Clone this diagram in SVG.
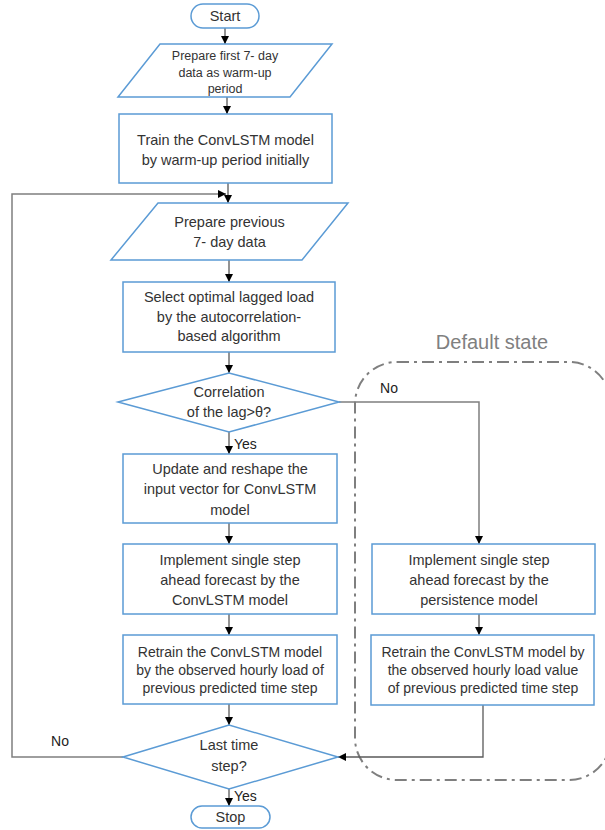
<svg xmlns="http://www.w3.org/2000/svg" width="605" height="830" viewBox="0 0 605 830">
<defs>
<style>
.box{fill:#fff;stroke:#5B9BD5;stroke-width:1.5}
.t{font-family:"Liberation Sans",Arial,sans-serif;font-size:14.5px;fill:#333;text-anchor:middle}
.s{font-size:14px}
.p{font-size:12.5px}
.lbl{font-family:"Liberation Sans",Arial,sans-serif;font-size:14px;fill:#222}
.ln{fill:none;stroke:#595959;stroke-width:1.3}
.lp{fill:none;stroke:#7f7f7f;stroke-width:1.5}
</style>
<marker id="ah" viewBox="0 0 10 10" refX="10" refY="5" markerWidth="8" markerHeight="8" markerUnits="userSpaceOnUse" orient="auto">
<path d="M0,0 L10,5 L0,10 z" fill="#000"/>
</marker>
</defs>
<rect x="0" y="0" width="605" height="830" fill="#fff"/>

<g id="default-state">
<rect x="355" y="362" width="256" height="418" rx="42" fill="none" stroke="#7f7f7f" stroke-width="2" stroke-dasharray="12 5 3 5"/>
<text x="492" y="349" font-family="Liberation Sans,Arial,sans-serif" font-size="20" fill="#808080" text-anchor="middle">Default state</text>
</g>

<g id="connectors">
<line class="ln" x1="225" y1="28" x2="225" y2="44" marker-end="url(#ah)"/>
<line class="ln" x1="227" y1="97" x2="227" y2="114" marker-end="url(#ah)"/>
<line class="ln" x1="228" y1="183" x2="228" y2="203" marker-end="url(#ah)"/>
<polyline class="lp" points="123,757 12,757 12,194 226,194" marker-end="url(#ah)"/>
<line class="ln" x1="229" y1="260" x2="229" y2="282" marker-end="url(#ah)"/>
<line class="ln" x1="229" y1="352" x2="229" y2="373" marker-end="url(#ah)"/>
<line class="ln" x1="229" y1="432" x2="229" y2="454" marker-end="url(#ah)"/>
<polyline class="lp" points="339,402 479,402 479,544" marker-end="url(#ah)"/>
<line class="ln" x1="229" y1="523" x2="229" y2="544" marker-end="url(#ah)"/>
<line class="ln" x1="229" y1="614" x2="229" y2="635" marker-end="url(#ah)"/>
<line class="ln" x1="229" y1="704" x2="229" y2="725" marker-end="url(#ah)"/>
<line class="ln" x1="229" y1="789" x2="229" y2="806" marker-end="url(#ah)"/>
<line class="ln" x1="479" y1="614" x2="479" y2="635" marker-end="url(#ah)"/>
<polyline class="ln" points="483,705 483,757 338,757" marker-end="url(#ah)"/>
<text class="lbl" x="234" y="449">Yes</text>
<text class="lbl" x="389" y="393" text-anchor="middle">No</text>
<text class="lbl" x="60" y="746" text-anchor="middle">No</text>
<text class="lbl" x="234" y="801">Yes</text>
</g>

<g id="start">
<rect class="box" x="191" y="4" width="68" height="24" rx="12"/>
<text class="t" x="225" y="21">Start</text>
</g>

<g id="prepare-first">
<polygon class="box" points="160,44 332,44 290,97 118,97"/>
<text class="t p" x="225" y="60">Prepare first 7- day</text>
<text class="t p" x="225" y="77">data as warm-up</text>
<text class="t p" x="225" y="93">period</text>
</g>

<g id="train">
<rect class="box" x="119" y="114" width="213" height="69"/>
<text class="t" x="225.5" y="145">Train the ConvLSTM model</text>
<text class="t" x="225.5" y="165">by warm-up period initially</text>
</g>

<g id="prepare-previous">
<polygon class="box" points="158,203 348,203 302,260 111,260"/>
<text class="t" x="229.5" y="227">Prepare previous</text>
<text class="t" x="229.5" y="247">7- day data</text>
</g>

<g id="select">
<rect class="box" x="123" y="282" width="212" height="70"/>
<text class="t" x="229" y="302">Select optimal lagged load</text>
<text class="t" x="229" y="322">by the autocorrelation-</text>
<text class="t" x="229" y="341">based algorithm</text>
</g>

<g id="correlation">
<polygon class="box" points="118,402 229,373 339,402 229,432"/>
<text class="t" x="229" y="397">Correlation</text>
<text class="t" x="229" y="417">of the lag&gt;θ?</text>
</g>

<g id="update">
<rect class="box" x="123" y="454" width="214" height="69"/>
<text class="t" x="230" y="474">Update and reshape the</text>
<text class="t" x="230" y="494">input vector for ConvLSTM</text>
<text class="t" x="230" y="515">model</text>
</g>

<g id="implement-convlstm">
<rect class="box" x="123" y="544" width="214" height="70"/>
<text class="t" x="230" y="565">Implement single step</text>
<text class="t" x="230" y="585">ahead forecast by the</text>
<text class="t" x="230" y="605">ConvLSTM model</text>
</g>

<g id="retrain-left">
<rect class="box" x="123" y="635" width="214" height="69"/>
<text class="t s" x="230" y="657">Retrain the ConvLSTM model</text>
<text class="t s" x="230" y="675">by the observed hourly load of</text>
<text class="t s" x="230" y="693">previous predicted time step</text>
</g>

<g id="last-step">
<polygon class="box" points="123,757 229,725 338,757 229,789"/>
<text class="t" x="229" y="750">Last time</text>
<text class="t" x="229" y="771">step?</text>
</g>

<g id="stop">
<rect class="box" x="191" y="806" width="79" height="22" rx="11"/>
<text class="t" x="230.5" y="822">Stop</text>
</g>

<g id="implement-persistence">
<rect class="box" x="372" y="544" width="223" height="70"/>
<text class="t" x="479" y="565">Implement single step</text>
<text class="t" x="479" y="585">ahead forecast by the</text>
<text class="t" x="479" y="605">persistence model</text>
</g>

<g id="retrain-right">
<rect class="box" x="371" y="635" width="223" height="70"/>
<text class="t s" x="483" y="657">Retrain the ConvLSTM model by</text>
<text class="t s" x="483" y="675">the observed hourly load value</text>
<text class="t s" x="483" y="693">of previous predicted time step</text>
</g>
</svg>
